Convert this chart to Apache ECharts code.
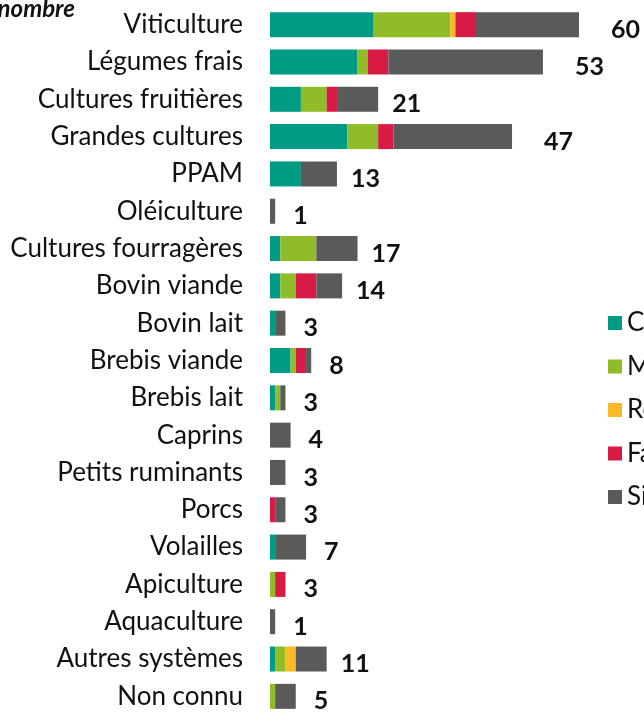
<!DOCTYPE html>
<html>
<head>
<meta charset="utf-8">
<script src="https://cdn.jsdelivr.net/npm/echarts@6/dist/echarts.min.js"></script>
<style>
  html, body { margin: 0; padding: 0; background: #fff; }
  #bar { width: 644px; height: 715px; }
</style>
</head>
<body>
<div id="bar"></div>
<script>
const categories = [
  "Viticulture", "Légumes frais", "Cultures fruitières", "Grandes cultures",
  "PPAM", "Oléiculture", "Cultures fourragères", "Bovin viande", "Bovin lait",
  "Brebis viande", "Brebis lait", "Caprins", "Petits ruminants", "Porcs",
  "Volailles", "Apiculture", "Aquaculture", "Autres systèmes", "Non connu",
];

// the legend names are cut at the right edge of the picture
const seriesNames = ["Conversion", "Mixte", "Reprise", "Faillite", "Situation inconnue"];
const seriesColors = ["#009b84", "#8fbc28", "#fbb829", "#d81b44", "#5a5a5a"];

const conversion = [20, 17, 6, 15, 6, 0, 2, 2, 1, 4, 1, 0, 0, 0, 1, 0, 0, 1, 0];
const mixte      = [15, 2, 5, 6, 0, 0, 7, 3, 0, 1, 1, 0, 0, 0, 0, 1, 0, 2, 1];
const reprise    = [1, 0, 0, 0, 0, 0, 0, 0, 0, 0, 0, 0, 0, 0, 0, 0, 0, 2, 0];
const faillite   = [4, 4, 2, 3, 0, 0, 0, 4, 0, 2, 0, 0, 0, 1, 0, 2, 0, 0, 0];
const sansInfo   = [20, 30, 8, 23, 7, 1, 8, 5, 2, 1, 1, 4, 3, 2, 6, 0, 1, 6, 4];

const seriesValues = [conversion, mixte, reprise, faillite, sansInfo];

const totals = categories.map((c, i) =>
  seriesValues.reduce((s, arr) => s + arr[i], 0)
);

const chart = echarts.init(document.getElementById("bar"));

const series = seriesNames.map((name, k) => ({
  name: name,
  type: "bar",
  stack: "total",
  barWidth: 25,
  data: seriesValues[k],
  itemStyle: { color: seriesColors[k] },
  emphasis: { disabled: true },
}));

// invisible bar just to carry the total labels
series.push({
  name: "total",
  type: "bar",
  barWidth: 25,
  barGap: "-100%",
  z: 1,
  data: totals.map((v) => ({
    value: v,
    label: { distance: v >= 40 ? 32 : v >= 10 ? 14 : 18 },
  })),
  itemStyle: { color: "rgba(0,0,0,0)" },
  label: {
    show: true,
    position: "right",
    offset: [0, 5],
    color: "#111",
    fontFamily: "Lato",
    fontWeight: "bold",
    fontSize: 25,
  },
  emphasis: { disabled: true },
  silent: true,
});

const option = {
  animation: false,
  title: {
    text: "En nombre",
    right: 569,
    top: -3,
    padding: 0,
    textStyle: {
      fontFamily: "Lato",
      fontStyle: "italic",
      fontWeight: "bold",
      fontSize: 24,
      color: "#111",
    },
  },
  legend: {
    data: seriesNames,
    orient: "vertical",
    left: 608,
    top: 310,
    padding: 0,
    itemWidth: 14,
    itemHeight: 14,
    itemGap: 17.5,
    icon: "rect",
    textStyle: {
      fontFamily: "Lato",
      fontSize: 26,
      lineHeight: 22,
      color: "#111",
    },
  },
  grid: {
    left: 270,
    top: 6,
    width: 309,
    height: 714,
  },
  xAxis: {
    type: "value",
    min: 0,
    max: 60,
    show: false,
  },
  yAxis: {
    type: "category",
    inverse: true,
    data: categories,
    axisLine: { show: false },
    axisTick: { show: false },
    axisLabel: {
      margin: 27,
      fontFamily: "Lato",
      fontSize: 26,
      color: "#111",
    },
  },
  series: series,
};

chart.setOption(option);

window.addEventListener("resize", () => {
  chart.resize();
});
</script>
</body>
</html>
